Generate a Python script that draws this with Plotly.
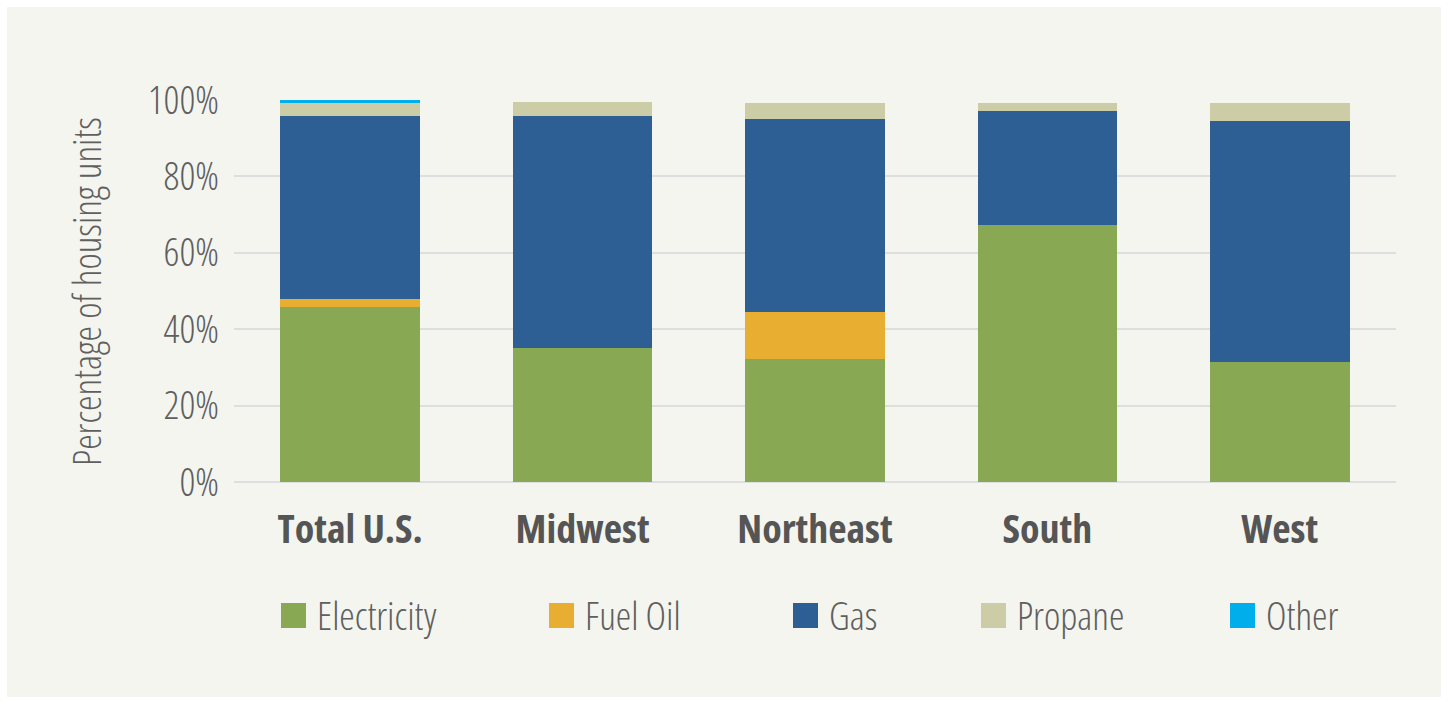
import plotly.graph_objects as go

categories = ["Total U.S.", "Midwest", "Northeast", "South", "West"]
series_names = ["Electricity", "Fuel Oil", "Gas", "Propane", "Other"]
electricity = [45.7, 35.0, 32.1, 67.4, 31.3]
fuel_oil = [2.3, 0.0, 12.3, 0.0, 0.0]
gas = [47.7, 60.7, 50.5, 29.6, 63.3]
propane = [3.4, 3.7, 4.4, 2.3, 4.5]
other = [0.8, 0.0, 0.0, 0.0, 0.0]
y_tick_vals = [0, 20, 40, 60, 80, 100]
y_tick_text = ["0%", "20%", "40%", "60%", "80%", "100%"]

colors = ["#88a853", "#e8ae31", "#2d5f95", "#cccca6", "#00aeeb"]
series_values = [electricity, fuel_oil, gas, propane, other]

W, H = 1448, 704
L, R, T, B = 234, 52, 100, 222
pw, ph = W - L - R, H - T - B

def px_x(px):
    return (px - L) / pw

def px_y(py):
    return (H - B - py) / ph

FONT = "Open Sans, sans-serif"
TXT = "#5f5f5f"

fig = go.Figure()
for name, vals, col in zip(series_names, series_values, colors):
    fig.add_trace(go.Bar(x=categories, y=vals, name=name, marker_color=col,
                         marker_line_width=0, showlegend=False))

shapes = [dict(type="rect", xref="paper", yref="paper",
               x0=px_x(7), x1=px_x(1441), y0=px_y(697), y1=px_y(7),
               fillcolor="#f4f5ef", line_width=0, layer="below")]
annotations = [dict(text="Percentage of housing units", textangle=-90,
                    xref="paper", yref="paper", x=px_x(85), y=px_y(291.5),
                    xanchor="center", yanchor="middle",
                    showarrow=False, font=dict(family=FONT, size=39, color=TXT, weight=300))]

legend_sq_x = [281, 549, 793, 981, 1230]
sq = 25
sq_y0 = 603
for name, col, sx in zip(series_names, colors, legend_sq_x):
    shapes.append(dict(type="rect", xref="paper", yref="paper",
                       x0=px_x(sx), x1=px_x(sx + sq), y0=px_y(sq_y0 + sq), y1=px_y(sq_y0),
                       fillcolor=col, line_width=0))
    annotations.append(dict(text=name, xref="paper", yref="paper",
                            x=px_x(sx + sq + 9), y=px_y(sq_y0 + sq / 2 - 1),
                            xanchor="left", yanchor="middle", align="left", showarrow=False,
                            font=dict(family=FONT, size=39, color=TXT, weight=300)))

fig.update_layout(
    barmode="stack", bargap=0.4,
    width=W, height=H,
    margin=dict(l=L, r=R, t=T, b=B, autoexpand=False),
    paper_bgcolor="white", plot_bgcolor="#f4f5ef",
    shapes=shapes, annotations=annotations,
    font=dict(family=FONT, color=TXT),
    xaxis=dict(showgrid=False, showline=False, ticks="",
               tickfont=dict(family=FONT, size=40, color="#555555", weight="bold"),
               ticklabelstandoff=20),
    yaxis=dict(range=[0, 100], tickvals=y_tick_vals, ticktext=y_tick_text,
               showgrid=True, gridcolor="#dedede", gridwidth=2,
               zeroline=True, zerolinecolor="#dedede", zerolinewidth=2,
               ticks="", ticklabelstandoff=14,
               tickfont=dict(family=FONT, size=39, color=TXT, weight=300)),
)

post = """
document.body.style.margin='0px';
var st=document.createElement('style');
st.textContent='svg text{font-stretch:77% !important;}';
document.head.appendChild(st);
"""
fig.write_html("out.html", post_script=post, config={"displayModeBar": False})
